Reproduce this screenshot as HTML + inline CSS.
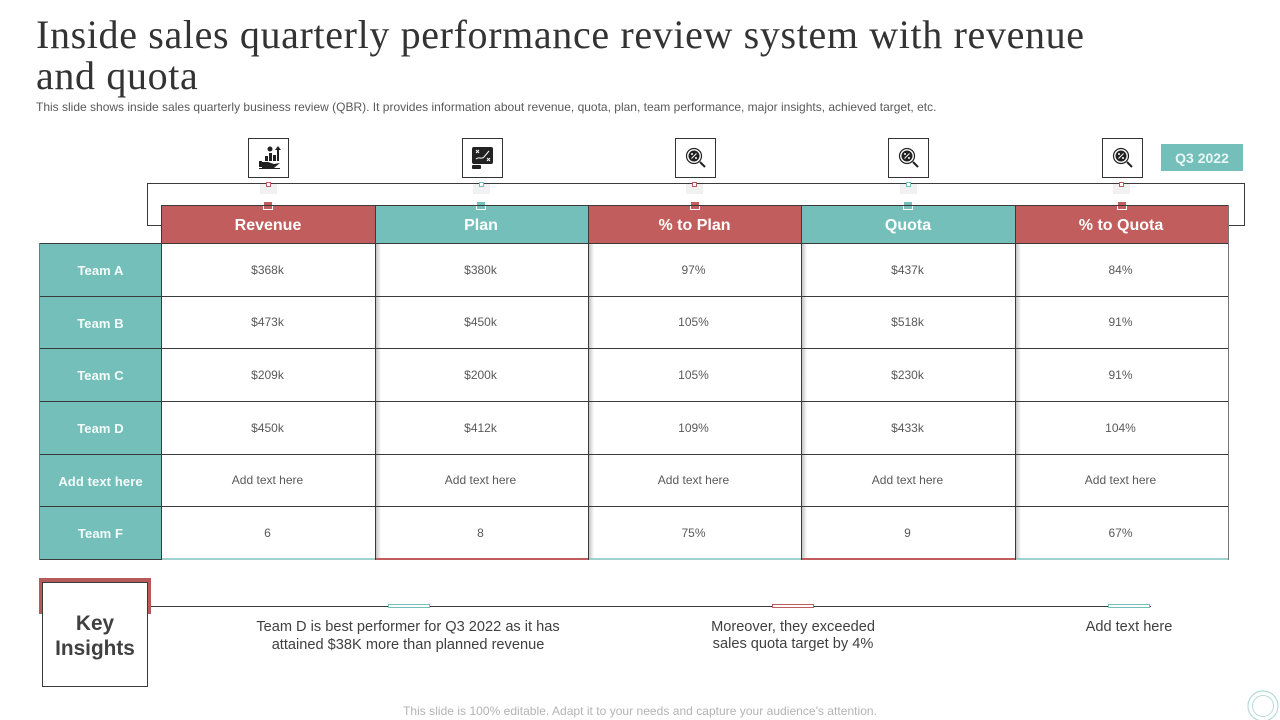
<!DOCTYPE html>
<html lang="en">
<head>
<meta charset="utf-8">
<title>Inside sales quarterly performance review</title>
<style>
html,body{margin:0;padding:0;background:#fff}
#slide{position:relative;width:1280px;height:720px;overflow:hidden;background:#fff;font-family:"Liberation Sans",sans-serif;color:#404040}
#slide div{position:absolute;box-sizing:border-box}
.line{background:#3a3a3a}
.hd{top:206px;height:37px;color:#fff;font-weight:bold;font-size:16px;line-height:39px;text-align:center;padding-right:1px}
.red{background:#c15d5c}
.teal{background:#74bfba}
.side{left:40px;width:121px;height:52px;background:#74bfba;color:#f4fbfa;font-weight:bold;font-size:13px;letter-spacing:.1px;line-height:53px;text-align:center}
.c{height:20px;width:213px;font-size:12px;line-height:21px;text-align:center;color:#595959}
.ibox{top:138px;width:41px;height:40px;border:1px solid #333;background:#fff}
.shadow{top:244px;width:5px;height:315px;background:linear-gradient(to right,#c4c4c4,#fff)}
.sq{width:5px;height:5px;top:182px;background:#fff;border:1px solid}
.glow{width:17px;height:10px;top:184px;background:#f1f1f1}
.node{top:201px;width:10px;height:9px;border:1px solid #fff}
.tick{top:604px;height:4px;width:42px;background:#fff;border:1px solid}
.ins{font-size:14.6px;line-height:18px;text-align:center;color:#404040}
svg{position:absolute;left:0;top:0}
</style>
</head>
<body>
<div id="slide">
<div style="left:36px;top:14px;width:1100px;font-family:'Liberation Serif',serif;font-size:40px;line-height:41px;color:#333;letter-spacing:.64px">Inside sales quarterly performance review system with revenue<br>and quota</div>
<div style="left:36px;top:100px;width:1100px;font-size:12px;line-height:15px;color:#595959;white-space:nowrap">This slide shows inside sales quarterly business review (QBR). It provides information about revenue, quota, plan, team performance, major insights, achieved target, etc.</div>

<div style="left:147px;top:183px;width:1098px;height:43px;border:1px solid #3a3a3a"></div>

<div class="ibox" style="left:248px"><svg width="41" height="40" viewBox="0 0 41 40"><g fill="#222"><rect x="16" y="17" width="3" height="5"/><rect x="20" y="14" width="3" height="8"/><rect x="24" y="16" width="3" height="6"/><circle cx="21" cy="10" r="2.5"/><rect x="28" y="11" width="2" height="11"/><polygon points="29,7 32,11 26,11"/><rect x="10" y="22" width="3" height="6"/><path d="M13 23h6l6 2 6-1-6 5h-12z"/><rect x="10" y="29" width="21" height="1"/></g></svg></div>
<div class="ibox" style="left:462px"><svg width="39" height="38" viewBox="0 0 39 38"><rect x="9" y="8" width="21" height="17" rx="2" fill="#222"/><rect x="9" y="26" width="9" height="4" rx="1" fill="#222"/><path d="M13 20c3-3 5 1 8-2l5-6M13 11l3 3M16 11l-3 3M24 19l3 3M27 19l-3 3" stroke="#fff" stroke-width="1" fill="none"/></svg></div>
<div class="ibox" style="left:675px"><svg width="39" height="38" viewBox="0 0 39 38"><circle cx="18" cy="17" r="7.500" fill="#fff" stroke="#222" stroke-width="1.200"/><circle cx="18" cy="17" r="5.500" fill="#222"/><path d="M15.500 19.500l5-5" stroke="#fff"/><circle cx="16" cy="15" r="1" fill="#fff"/><circle cx="20" cy="19" r="1" fill="#fff"/><path d="M24 23l5 5" stroke="#222" stroke-width="2"/></svg></div>
<div class="ibox" style="left:888px"><svg width="39" height="38" viewBox="0 0 39 38"><circle cx="18" cy="17" r="7.500" fill="#fff" stroke="#222" stroke-width="1.200"/><circle cx="18" cy="17" r="5.500" fill="#222"/><path d="M15.500 19.500l5-5" stroke="#fff"/><circle cx="16" cy="15" r="1" fill="#fff"/><circle cx="20" cy="19" r="1" fill="#fff"/><path d="M24 23l5 5" stroke="#222" stroke-width="2"/></svg></div>
<div class="ibox" style="left:1102px"><svg width="39" height="38" viewBox="0 0 39 38"><circle cx="18" cy="17" r="7.500" fill="#fff" stroke="#222" stroke-width="1.200"/><circle cx="18" cy="17" r="5.500" fill="#222"/><path d="M15.500 19.500l5-5" stroke="#fff"/><circle cx="16" cy="15" r="1" fill="#fff"/><circle cx="20" cy="19" r="1" fill="#fff"/><path d="M24 23l5 5" stroke="#222" stroke-width="2"/></svg></div>

<div class="teal" style="left:1161px;top:144px;width:82px;height:27px;color:#eaf6f5;font-weight:bold;font-size:14px;line-height:28px;text-align:center">Q3 2022</div>

<div class="glow" style="left:260px"></div>
<div class="glow" style="left:473px"></div>
<div class="glow" style="left:686px"></div>
<div class="glow" style="left:900px"></div>
<div class="glow" style="left:1113px"></div>
<div class="sq" style="left:266px;border-color:#c15d5c"></div>
<div class="sq" style="left:479px;border-color:#74bfba"></div>
<div class="sq" style="left:692px;border-color:#c15d5c"></div>
<div class="sq" style="left:906px;border-color:#74bfba"></div>
<div class="sq" style="left:1119px;border-color:#c15d5c"></div>

<div class="hd red" style="left:162px;width:213px">Revenue</div>
<div class="hd teal" style="left:375px;width:213px">Plan</div>
<div class="hd red" style="left:588px;width:214px">% to Plan</div>
<div class="hd teal" style="left:802px;width:213px">Quota</div>
<div class="hd red" style="left:1015px;width:213px">% to Quota</div>

<div class="node red" style="left:263px"></div>
<div class="node teal" style="left:476px"></div>
<div class="node red" style="left:690px"></div>
<div class="node teal" style="left:903px"></div>
<div class="node red" style="left:1117px"></div>

<div class="side" style="top:244px">Team A</div>
<div class="side" style="top:297px">Team B</div>
<div class="side" style="top:349px;height:53px">Team C</div>
<div class="side" style="top:402px">Team D</div>
<div class="side" style="top:455px">Add text here</div>
<div class="side" style="top:507px">Team F</div>

<div class="shadow" style="left:376px"></div>
<div class="shadow" style="left:589px"></div>
<div class="shadow" style="left:802px"></div>
<div class="shadow" style="left:1016px"></div>

<div class="line" style="left:161px;top:205px;width:1068px;height:1px"></div>
<div class="line" style="left:39px;top:243px;width:1190px;height:1px"></div>
<div class="line" style="left:39px;top:296px;width:1190px;height:1px"></div>
<div class="line" style="left:39px;top:348px;width:1190px;height:1px"></div>
<div class="line" style="left:39px;top:401px;width:1190px;height:1px"></div>
<div class="line" style="left:39px;top:454px;width:1190px;height:1px"></div>
<div class="line" style="left:39px;top:506px;width:1190px;height:1px"></div>
<div class="line" style="left:39px;top:559px;width:123px;height:1px"></div>
<div class="teal" style="left:162px;top:558px;width:213px;height:2px;opacity:.7"></div>
<div class="red" style="left:375px;top:558px;width:213px;height:2px"></div>
<div class="teal" style="left:588px;top:558px;width:214px;height:2px;opacity:.7"></div>
<div class="red" style="left:802px;top:558px;width:213px;height:2px"></div>
<div class="teal" style="left:1015px;top:558px;width:214px;height:2px;opacity:.7"></div>

<div class="line" style="left:39px;top:243px;width:1px;height:317px;background:#777"></div>
<div class="line" style="left:161px;top:205px;width:1px;height:355px"></div>
<div class="line" style="left:375px;top:205px;width:1px;height:355px"></div>
<div class="line" style="left:588px;top:205px;width:1px;height:355px"></div>
<div class="line" style="left:801px;top:205px;width:1px;height:355px"></div>
<div class="line" style="left:1015px;top:205px;width:1px;height:355px"></div>
<div class="line" style="left:1228px;top:205px;width:1px;height:355px;background:#777"></div>

<div class="c" style="left:161px;top:260px">$368k</div>
<div class="c" style="left:374px;top:260px">$380k</div>
<div class="c" style="left:587px;top:260px">97%</div>
<div class="c" style="left:801px;top:260px">$437k</div>
<div class="c" style="left:1014px;top:260px">84%</div>

<div class="c" style="left:161px;top:312px">$473k</div>
<div class="c" style="left:374px;top:312px">$450k</div>
<div class="c" style="left:587px;top:312px">105%</div>
<div class="c" style="left:801px;top:312px">$518k</div>
<div class="c" style="left:1014px;top:312px">91%</div>

<div class="c" style="left:161px;top:365px">$209k</div>
<div class="c" style="left:374px;top:365px">$200k</div>
<div class="c" style="left:587px;top:365px">105%</div>
<div class="c" style="left:801px;top:365px">$230k</div>
<div class="c" style="left:1014px;top:365px">91%</div>

<div class="c" style="left:161px;top:418px">$450k</div>
<div class="c" style="left:374px;top:418px">$412k</div>
<div class="c" style="left:587px;top:418px">109%</div>
<div class="c" style="left:801px;top:418px">$433k</div>
<div class="c" style="left:1014px;top:418px">104%</div>

<div class="c" style="left:161px;top:470px">Add text here</div>
<div class="c" style="left:374px;top:470px">Add text here</div>
<div class="c" style="left:587px;top:470px">Add text here</div>
<div class="c" style="left:801px;top:470px">Add text here</div>
<div class="c" style="left:1014px;top:470px">Add text here</div>

<div class="c" style="left:161px;top:523px">6</div>
<div class="c" style="left:374px;top:523px">8</div>
<div class="c" style="left:587px;top:523px">75%</div>
<div class="c" style="left:801px;top:523px">9</div>
<div class="c" style="left:1014px;top:523px">67%</div>

<div style="left:39px;top:578px;width:112px;height:36px;background:#b65a5a"></div>
<div style="left:42px;top:582px;width:106px;height:105px;background:#fff;border:1px solid #3a3a3a;font-weight:bold;font-size:20.8px;line-height:25px;text-align:center;padding-top:28px;color:#404040">Key<br>Insights</div>
<div class="line" style="left:151px;top:606px;width:1000px;height:1px"></div>
<div class="tick" style="left:388px;border-color:#74bfba"></div>
<div class="tick" style="left:772px;border-color:#c15d5c"></div>
<div class="tick" style="left:1108px;border-color:#74bfba"></div>

<div class="ins" style="left:228px;top:618px;width:360px">Team D is best performer for Q3 2022 as it has<br>attained $38K more than planned revenue</div>
<div class="ins" style="left:663px;top:619px;width:260px;line-height:17px">Moreover, they exceeded<br>sales quota target by 4%</div>
<div class="ins" style="left:1029px;top:618px;width:200px">Add text here</div>

<div style="left:340px;top:704px;width:600px;font-size:12px;letter-spacing:.03px;line-height:15px;text-align:center;color:#b3b3b3">This slide is 100% editable. Adapt it to your needs and capture your audience's attention.</div>
<svg width="1280" height="720" viewBox="0 0 1280 720" style="pointer-events:none"><circle cx="1263" cy="706" r="15" fill="none" stroke="#b5dbd8" stroke-width="1.200"/><circle cx="1263" cy="706" r="10.500" fill="none" stroke="#b5dbd8" stroke-width="1"/></svg>
</div>
</body>
</html>
